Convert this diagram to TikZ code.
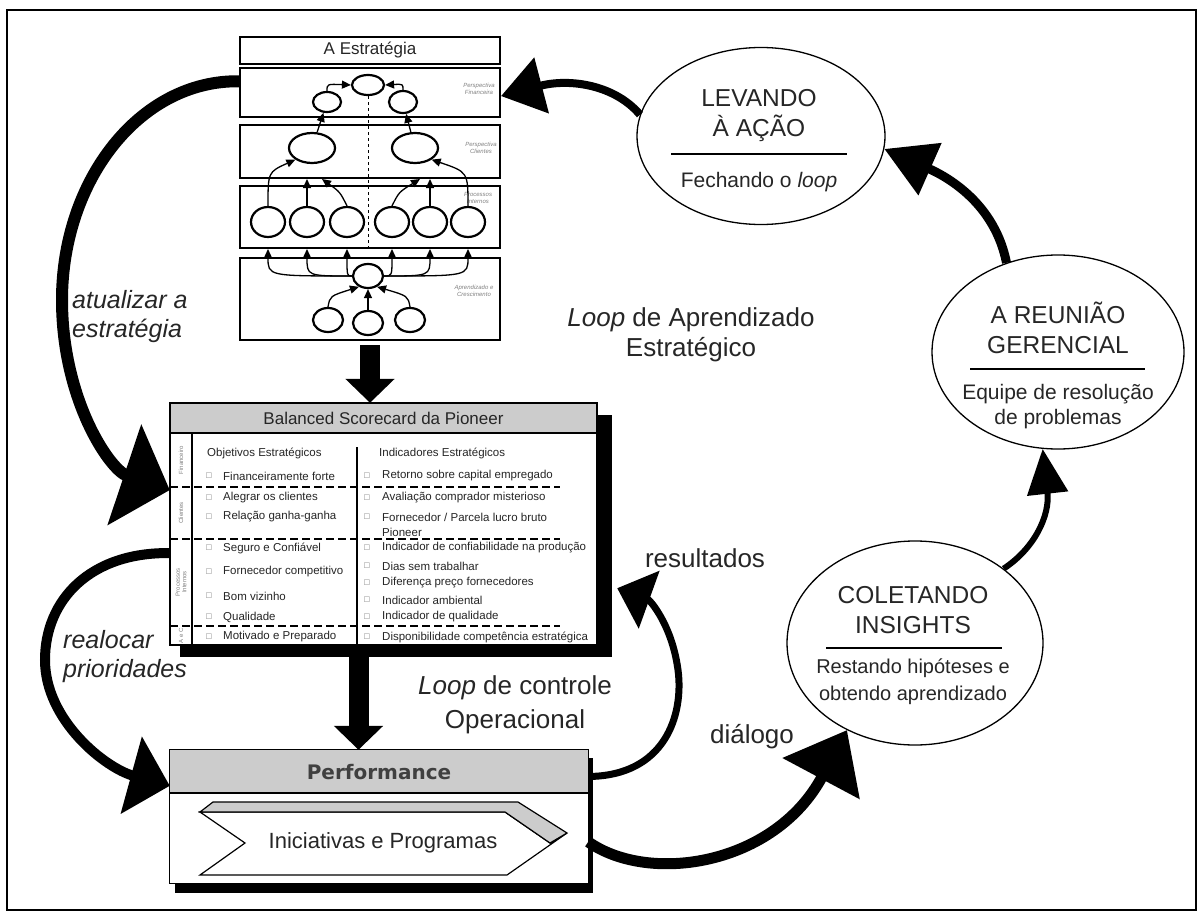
\documentclass[tikz,border=0pt]{standalone}
\usepackage{fontspec}
\setmainfont{Liberation Sans}
\newfontfamily\symfont{DejaVu Sans}
\usepackage{tikz}
\usetikzlibrary{arrows.meta,shapes.geometric,calc}
\definecolor{hdrgray}{gray}{0.8}
\definecolor{ink}{gray}{0.15}

\begin{document}
\begin{tikzpicture}[x=1pt,y=-1pt,
	every node/.style={inner sep=0pt,text=ink},
	smbox/.style={draw,line width=2pt,minimum width=260pt},
	oval/.style 2 args={draw,ellipse,line width=2.2pt,minimum width=#1,minimum height=#2},
	link/.style={line width=1.3pt,-{Triangle[length=9pt,width=8pt]}},
	persp/.style={font=\fontsize{6}{7.5}\selectfont\itshape,text=gray,align=center},
	side/.style={rotate=90,font=\fontsize{6}{6.5}\selectfont,text=gray,align=center},
	bul/.style={font=\symfont\fontsize{7}{7}\selectfont,text=gray},
	item/.style={anchor=west,font=\fontsize{11.5}{13}\selectfont},
	big/.style={draw,ellipse,line width=1.3pt,minimum width=#1},
	caps/.style={align=center,font=\fontsize{24.5}{30}\selectfont},
	sub/.style={align=center,font=\fontsize{21}{27}\selectfont},
	lbl/.style={align=center,font=\fontsize{26}{32}\selectfont}]
\useasboundingbox (0,0) rectangle (1202,915);
\draw[line width=1.5pt] (7,10) rectangle (1196,910);

%strategy map
\node[smbox,minimum height=27pt] (title) at (370,50.5) {\fontsize{17}{20}\selectfont A Estratégia};
\node[smbox,minimum height=49pt] (fin) at (370,92.5) {};
\node[smbox,minimum height=53pt] (cli) at (370,151.5) {};
\node[smbox,minimum height=62pt] (pro) at (370,217) {};
\node[smbox,minimum height=82pt] (apr) at (370,299) {};

\node[oval={32pt}{20pt}] (fT) at (368,85) {};
\node[oval={28pt}{20pt}] (fL) at (327,102) {};
\node[oval={28pt}{22pt}] (fR) at (403,102) {};
\node[oval={46pt}{30pt}] (cL) at (312,148) {};
\node[oval={46pt}{30pt}] (cR) at (415,148) {};
\foreach \x [count=\i] in {268,307,347,392,430,468}
	\node[oval={34pt}{30pt}] (p\i) at (\x,222) {};
\node[oval={30pt}{24pt}] (a0) at (368,276) {};
\foreach \x/\y [count=\i] in {328/320,368/323,410/320}
	\node[oval={30pt}{24pt}] (a\i) at (\x,\y) {};

\draw[dashed,line width=0.8pt] (fT.south) -- (fT.south |- pro.south);

\node[persp] (lf) at (479,89) {Perspectiva\\Financeira};
\node[persp] (lc) at (481,148) {Perspectiva\\Clientes};
\node[persp] (lp) at (478,198) {Processos\\Internos};
\node[persp] (la) at (474,291) {Aprendizado e\\Crescimento};

%links
\draw[link] (fL.north) .. controls (327,84) .. (fT.west);
\draw[link] (fR.north) .. controls (403,84) .. (fT.east);
\draw[link] (cL) -- (fL);
\draw[link] (cR) -- (fR);
\draw[link] (p1.north) .. controls (268,172) .. (cL.215);
\draw[link] (p2.north) -- (p2.north |- cli.south);
\draw[link] (p3.north) .. controls (340,192) .. ($(p3.north |- cli.south)+(-25,0)$);
\draw[link] (p4.north) .. controls (399,192) .. ($(p4.north |- cli.south)+(28,0)$);
\draw[link] (p5.north) -- (p5.north |- cli.south);
\draw[link] (p6.north) .. controls (468,172) .. (cR.325);
\foreach \i in {1,...,6}
	\draw[link] (a0) .. controls (p\i |- a0) .. (p\i |- pro.south);
\draw[link] (a1.north) .. controls (330,296) .. (a0.230);
\draw[link] (a2) -- (a0);
\draw[link] (a3.north) .. controls (408,296) .. (a0.310);

%scorecard
\fill (180,415) rectangle (612,657);
\node[fill=white,minimum width=427pt,minimum height=242pt] (sc) at (383.5,524) {};
\fill[hdrgray] (sc.north west) rectangle (597,433);
\draw[line width=1.2pt] (170,433) -- (597,433);
\node[font=\fontsize{17}{20}\selectfont] (schead) at (383.5,418) {Balanced Scorecard da Pioneer};
\draw[line width=1.5pt] (192,433) -- (192,645);
\draw[line width=2pt] (357,447) -- (357,645);
\foreach \y in {487,539,626}
	\draw[line width=2.4pt,dash pattern=on 8pt off 4pt] (170,\y) -- (560,\y);
\draw[line width=1.5pt] (sc.north west) rectangle (sc.south east);

\node[side] (lblfin) at (181,460) {Financeiro};
\node[side] (lblcli) at (181,513) {Clientes};
\node[side] (lblpro) at (181,582) {Processos\\Internos};
\node[side] (lblac) at (181,636) {A e C};

\node[item] (ohead) at (207,453) {Objetivos Estratégicos};
\node[item] (ihead) at (379,453) {Indicadores Estratégicos};
\foreach \y/\t [count=\i] in {476/Financeiramente forte,498/Alegrar os clientes,
	517/Relação ganha-ganha,548/Seguro e Confiável,572/Fornecedor competitivo,
	596/Bom vizinho,617/Qualidade,637/Motivado e Preparado}{
	\node[bul] (ob\i) at (209,\y) {□};
	\node[item] (ot\i) at (223,\y) {\t};}
\foreach \y/\t [count=\i] in {476/Retorno sobre capital empregado,498/Avaliação comprador misterioso,
	517/{Fornecedor / Parcela lucro bruto},548/Indicador de confiabilidade na produção,
	566/Dias sem trabalhar,583/Diferença preço fornecedores,600/Indicador ambiental,
	617/Indicador de qualidade,637/Disponibilidade competência estratégica}{
	\node[bul] (ib\i) at (367,\y) {□};
	\node[item] (it\i) at (382,\y) {\t};}
\node[item] (itx) at (382,532) {Pioneer};

%performance
\fill (175,758) rectangle (593,893);
\node[fill=white,minimum width=418pt,minimum height=133pt] (perf) at (379,816.5) {};
\fill[hdrgray] (perf.north west) rectangle (588,793);
\draw[line width=1.2pt] (170,793) -- (588,793);
\draw[line width=1.2pt] (perf.north west) rectangle (perf.south east);
\node[font=\symfont\bfseries\fontsize{20}{24}\selectfont,text=black!75] (perfhead) at (379,772) {Performance};
\filldraw[fill=white,line width=1.2pt] (200,812) -- (505,812) -- (550,843) -- (567,833) -- (507,875) -- (200,875) -- (245,843) -- cycle;
\filldraw[fill=hdrgray,line width=1.2pt] (200,812) -- (213,802) -- (518,802) -- (567,833) -- (550,843) -- (505,812) -- cycle;
\node[font=\fontsize{22}{26}\selectfont] (ini) at (383,843) {Iniciativas e Programas};

%cycle
\node[big=248pt,minimum height=177pt] (lev) at (761,136) {};
\node[big=252pt,minimum height=194pt] (reu) at (1058,352) {};
\node[big=256pt,minimum height=204pt] (col) at (915,643) {};

\node[caps] (levt) at (759,116) {LEVANDO\\À AÇÃO};
\draw[line width=1.2pt] (671,154) -- (847,154);
\node[sub] (levs) at (759,182) {Fechando o \textit{loop}};
\node[caps] (reut) at (1058,328) {A REUNIÃO\\GERENCIAL};
\draw[line width=1.2pt] (970,369) -- (1145,369);
\node[sub,font=\fontsize{21}{25}\selectfont] (reus) at (1058,407) {Equipe de resolução\\de problemas};
\node[caps] (colt) at (913,610) {COLETANDO\\INSIGHTS};
\draw[line width=1.2pt] (826,648) -- (1002,648);
\node[sub,font=\fontsize{20}{27}\selectfont] (cols) at (913,682) {Restando hipóteses e\\obtendo aprendizado};

%labels
\node[lbl,font=\fontsize{26}{30}\selectfont] (loopa) at (691,335) {\textit{Loop} de Aprendizado\\Estratégico};
\node[lbl,font=\fontsize{26}{34}\selectfont] (loopo) at (515,705) {\textit{Loop} de controle\\Operacional};
\node[lbl] (res) at (705,558) {resultados};
\node[lbl] (dia) at (752,737) {diálogo};
\node[anchor=west,align=left,font=\fontsize{25}{29}\selectfont\itshape] (upd) at (72,317) {atualizar a\\estratégia};
\node[anchor=west,align=left,font=\fontsize{25}{29}\selectfont\itshape] (rea) at (63,657) {realocar\\prioridades};

%big arrows
\draw[line width=20pt,-{Triangle[length=24pt,width=48pt]}] ([yshift=-4pt]apr.south) -- (apr.south |- sc.north);
\coordinate (scb) at ($(sc.south)+(-25,12)$);
\draw[line width=20pt,-{Triangle[length=24pt,width=48pt]}] (scb) -- (scb |- perf.north);
\draw[line width=12pt,-{Triangle[length=48pt,width=104pt]}] ($(fin.north west)!0.28!(fin.south west)$) .. controls (140,80) and (62,180) .. (62,300) .. controls (62,400) and (110,470) .. ($(sc.north west)!0.36!(sc.south west)$);
\draw[line width=10pt,-{Triangle[length=40pt,width=78pt]}] ($(sc.north west)!0.62!(sc.south west)$) .. controls (90,552) and (45,600) .. (45,660) .. controls (45,720) and (105,768) .. ($(perf.north west)!0.27!(perf.south west)$);
\draw[line width=7pt,-{Triangle[length=34pt,width=60pt]}] ($(perf.north east)!0.2!(perf.south east)$) .. controls (665,776) and (684,715) .. (678,670) .. controls (672,625) and (650,600) .. ($(sc.south east)+(20,-57)$);
\draw[line width=11pt,-{Triangle[length=55pt,width=85pt]}] ($(perf.north east)!0.69!(perf.south east)$) .. controls (650,885) and (775,865) .. (col.232);
\draw[line width=6pt,-{Triangle[length=45pt,width=40pt]}] (col.40) .. controls (1035,548) and (1050,515) .. (reu.261);
\draw[line width=9pt,-{Triangle[length=50pt,width=55pt]}] (reu.120) .. controls (995,205) and (950,178) .. (lev.354);
\draw[line width=8pt,-{Triangle[length=42pt,width=56pt]}] (lev.170) .. controls (615,85) and (570,78) .. ($(fin.north east)!0.57!(fin.south east)$);
\end{tikzpicture}
\end{document}
